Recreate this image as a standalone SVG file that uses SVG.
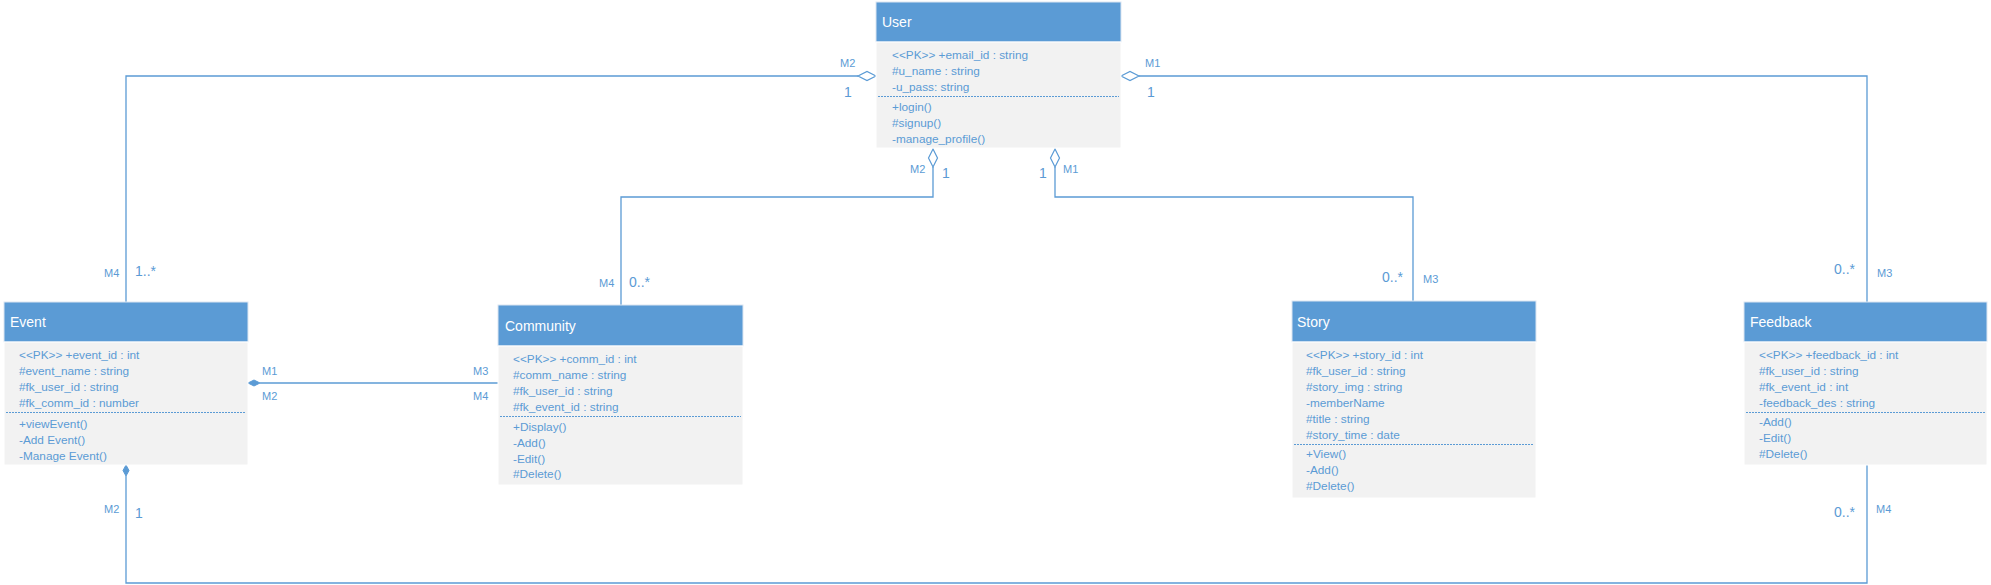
<svg xmlns="http://www.w3.org/2000/svg" width="1991" height="585" viewBox="0 0 1991 585">
<style>
.hdr{fill:#5B9BD5;stroke:#DCE6F2;stroke-width:1}
.body{fill:#F2F2F2;stroke:#FFFFFF;stroke-width:1}
.title{font-family:"Liberation Sans",Arial,sans-serif;font-size:14px;fill:#FFFFFF}
.attr{font-family:"Liberation Sans",Arial,sans-serif;font-size:11.8px;fill:#5B9BD5}
.sep{stroke:#5B9BD5;stroke-width:1;stroke-dasharray:2,1}
.conn{fill:none;stroke:#5B9BD5;stroke-width:1.3}
.hol{fill:#FFFFFF;stroke:#5B9BD5;stroke-width:1.2}
.fil{fill:#5B9BD5;stroke:#5B9BD5;stroke-width:1}
.role{font-family:"Liberation Sans",Arial,sans-serif;font-size:11px;fill:#5B9BD5}
.mult{font-family:"Liberation Sans",Arial,sans-serif;font-size:14px;fill:#5B9BD5}
</style>
<rect width="1991" height="585" fill="#FFFFFF"/>
<g id="connectors">
<polyline class="conn" points="858,76 126,76 126,302"/>
<polyline class="conn" points="1139,76 1867,76 1867,302"/>
<polyline class="conn" points="933,167 933,197 621,197 621,305"/>
<polyline class="conn" points="1055,167 1055,197 1413,197 1413,301"/>
<polyline class="conn" points="260,383 498,383"/>
<polyline class="conn" points="126,476 126,583 1867,583 1867,465"/>
<polygon class="hol" points="876,76 867,71.5 858,76 867,80.5"/>
<polygon class="hol" points="1121,76 1130,71.5 1139,76 1130,80.5"/>
<polygon class="hol" points="933,149 937.5,158 933,167 928.5,158"/>
<polygon class="hol" points="1055,149 1059.5,158 1055,167 1050.5,158"/>
<polygon class="fil" points="248,383 254,380 260,383 254,386"/>
<polygon class="fil" points="126,465 129,470.5 126,476 123,470.5"/>
<text class="role" x="840" y="67">M2</text>
<text class="mult" x="844" y="97">1</text>
<text class="role" x="1145" y="67">M1</text>
<text class="mult" x="1147" y="97">1</text>
<text class="role" x="910" y="173">M2</text>
<text class="mult" x="942" y="178">1</text>
<text class="mult" x="1039" y="178">1</text>
<text class="role" x="1063" y="173">M1</text>
<text class="role" x="104" y="277">M4</text>
<text class="mult" x="135" y="276">1..*</text>
<text class="role" x="599" y="287">M4</text>
<text class="mult" x="629" y="287">0..*</text>
<text class="mult" x="1382" y="282">0..*</text>
<text class="role" x="1423" y="283">M3</text>
<text class="mult" x="1834" y="274">0..*</text>
<text class="role" x="1877" y="277">M3</text>
<text class="role" x="262" y="375">M1</text>
<text class="role" x="262" y="400">M2</text>
<text class="role" x="473" y="375">M3</text>
<text class="role" x="473" y="400">M4</text>
<text class="role" x="104" y="513">M2</text>
<text class="mult" x="135" y="518">1</text>
<text class="mult" x="1834" y="517">0..*</text>
<text class="role" x="1876" y="513">M4</text>
</g>
<g id="user">
<rect class="hdr" x="876" y="2" width="245" height="40"/>
<rect class="body" x="876" y="42" width="245" height="106"/>
<text class="title" x="882" y="27">User</text>
<text class="attr" x="892" y="59">&lt;&lt;PK&gt;&gt; +email_id : string</text>
<text class="attr" x="892" y="75">#u_name : string</text>
<text class="attr" x="892" y="91">-u_pass: string</text>
<line class="sep" x1="878" y1="96.5" x2="1119" y2="96.5"/>
<text class="attr" x="892" y="111">+login()</text>
<text class="attr" x="892" y="127">#signup()</text>
<text class="attr" x="892" y="143">-manage_profile()</text>
</g>
<g id="event">
<rect class="hdr" x="4" y="302" width="244" height="40"/>
<rect class="body" x="4" y="342" width="244" height="123"/>
<text class="title" x="10" y="327">Event</text>
<text class="attr" x="19" y="359">&lt;&lt;PK&gt;&gt; +event_id : int</text>
<text class="attr" x="19" y="375">#event_name : string</text>
<text class="attr" x="19" y="391">#fk_user_id : string</text>
<text class="attr" x="19" y="407">#fk_comm_id : number</text>
<line class="sep" x1="6" y1="412.5" x2="246" y2="412.5"/>
<text class="attr" x="19" y="428">+viewEvent()</text>
<text class="attr" x="19" y="444">-Add Event()</text>
<text class="attr" x="19" y="460">-Manage Event()</text>
</g>
<g id="community">
<rect class="hdr" x="498" y="305" width="245" height="41"/>
<rect class="body" x="498" y="346" width="245" height="139"/>
<text class="title" x="505" y="331">Community</text>
<text class="attr" x="513" y="363">&lt;&lt;PK&gt;&gt; +comm_id : int</text>
<text class="attr" x="513" y="379">#comm_name : string</text>
<text class="attr" x="513" y="395">#fk_user_id : string</text>
<text class="attr" x="513" y="411">#fk_event_id : string</text>
<line class="sep" x1="500" y1="416.5" x2="741" y2="416.5"/>
<text class="attr" x="513" y="431">+Display()</text>
<text class="attr" x="513" y="447">-Add()</text>
<text class="attr" x="513" y="463">-Edit()</text>
<text class="attr" x="513" y="478">#Delete()</text>
</g>
<g id="story">
<rect class="hdr" x="1292" y="301" width="244" height="41"/>
<rect class="body" x="1292" y="342" width="244" height="156"/>
<text class="title" x="1297" y="327">Story</text>
<text class="attr" x="1306" y="359">&lt;&lt;PK&gt;&gt; +story_id : int</text>
<text class="attr" x="1306" y="375">#fk_user_id : string</text>
<text class="attr" x="1306" y="391">#story_img : string</text>
<text class="attr" x="1306" y="407">-memberName</text>
<text class="attr" x="1306" y="423">#title : string</text>
<text class="attr" x="1306" y="439">#story_time : date</text>
<line class="sep" x1="1294" y1="444.5" x2="1534" y2="444.5"/>
<text class="attr" x="1306" y="458">+View()</text>
<text class="attr" x="1306" y="474">-Add()</text>
<text class="attr" x="1306" y="490">#Delete()</text>
</g>
<g id="feedback">
<rect class="hdr" x="1744" y="302" width="243" height="40"/>
<rect class="body" x="1744" y="342" width="243" height="123"/>
<text class="title" x="1750" y="327">Feedback</text>
<text class="attr" x="1759" y="359">&lt;&lt;PK&gt;&gt; +feedback_id : int</text>
<text class="attr" x="1759" y="375">#fk_user_id : string</text>
<text class="attr" x="1759" y="391">#fk_event_id : int</text>
<text class="attr" x="1759" y="407">-feedback_des : string</text>
<line class="sep" x1="1746" y1="412.5" x2="1985" y2="412.5"/>
<text class="attr" x="1759" y="426">-Add()</text>
<text class="attr" x="1759" y="442">-Edit()</text>
<text class="attr" x="1759" y="458">#Delete()</text>
</g>
</svg>
